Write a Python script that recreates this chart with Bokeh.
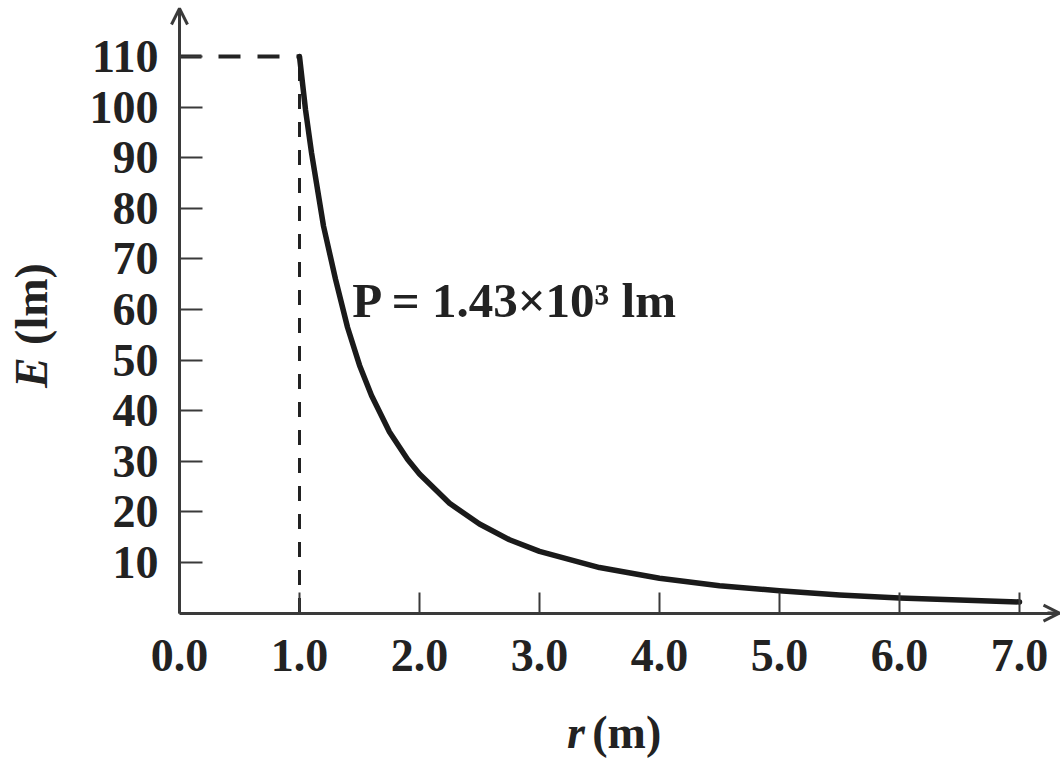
from bokeh.plotting import figure
from bokeh.models import (Range1d, FixedTicker, PrintfTickFormatter, Label, Arrow, OpenHead)
from bokeh.embed import file_html
from bokeh.resources import INLINE

# data
r_vals = [1.0, 1.05, 1.1, 1.2, 1.3, 1.4, 1.5, 1.6, 1.75, 1.9, 2.0, 2.25, 2.5, 2.75,
          3.0, 3.5, 4.0, 4.5, 5.0, 5.5, 6.0, 6.5, 7.0]
E_vals = [110, 99.5, 91, 76.5, 66, 56.5, 49, 43, 35.8, 30.4, 27.5, 21.7, 17.6, 14.5,
          12.2, 9.0, 6.9, 5.4, 4.4, 3.6, 3.0, 2.6, 2.2]
x_ticks = [0, 1, 2, 3, 4, 5, 6, 7]
y_ticks = [10, 20, 30, 40, 50, 60, 70, 80, 90, 100, 110]
r0 = 1.0
E0 = 110
annotation = "P = 1.43×10³ lm"

FONT = "Liberation Serif"
INK = "#222222"
AX = "#3a3a3a"

W, H = 1060, 761
X0_PX, Y0_PX = 179.0, 612.6      # where r=0, E=0 sit on the canvas
SX, SY = 120.0, 5.06             # px per unit

p = figure(width=W, height=H, output_backend="svg", toolbar_location=None,
           x_range=Range1d(-X0_PX / SX, (W - X0_PX) / SX),
           y_range=Range1d(-(H - Y0_PX) / SY, Y0_PX / SY),
           min_border_left=0, min_border_right=0, min_border_top=0, min_border_bottom=0)
p.outline_line_color = None
p.xgrid.visible = False
p.ygrid.visible = False
p.background_fill_color = "white"
p.border_fill_color = "white"

x_end = (W - 1 - X0_PX) / SX
y_end = (Y0_PX - 8) / SY

for ax in (p.xaxis[0], p.yaxis[0]):
    ax.fixed_location = 0
    ax.axis_line_color = AX
    ax.axis_line_width = 3
    ax.major_tick_line_color = AX
    ax.major_tick_line_width = 2
    ax.minor_tick_line_color = None
    ax.major_tick_out = 0
    ax.major_label_text_font = FONT
    ax.major_label_text_font_style = "bold"
    ax.major_label_text_font_size = "46px"
    ax.major_label_text_color = INK

p.xaxis.bounds = (0, x_end)
p.yaxis.bounds = (0, y_end)
p.xaxis.ticker = FixedTicker(ticks=x_ticks)
p.xaxis.formatter = PrintfTickFormatter(format="%.1f")
p.xaxis.major_tick_in = 21
p.xaxis.major_label_standoff = 27
p.yaxis.ticker = FixedTicker(ticks=y_ticks)
p.yaxis.major_tick_in = 23
p.yaxis.major_label_standoff = 21

# dashed guides
p.line([0, r0], [E0, E0], line_color=INK, line_width=4, line_dash="22 17")
p.line([r0, r0], [0, E0], line_color=INK, line_width=3, line_dash="15 13")

# curve
p.line(r_vals, E_vals, line_color="#1a1a1a", line_width=5.5, line_join="round", line_cap="round")

# axis arrows
p.add_layout(Arrow(end=OpenHead(size=16, line_width=3, line_color=AX), line_color=AX, line_width=3,
                   x_start=x_end - 0.1, y_start=0, x_end=x_end, y_end=0))
p.add_layout(Arrow(end=OpenHead(size=16, line_width=3, line_color=AX), line_color=AX, line_width=3,
                   x_start=0, y_start=y_end - 3, x_end=0, y_end=y_end))

# annotation
p.add_layout(Label(x=1.44, y=61.8, text=annotation, text_font=FONT, text_font_style="bold",
                   text_font_size="49px", text_color=INK, text_baseline="middle", text_align="left"))

# axis titles
p.add_layout(Label(x=3.23, y=-23.5, text="r", text_font=FONT, text_font_style="bold italic",
                   text_font_size="46px", text_color=INK, text_baseline="middle", text_align="left"))
p.add_layout(Label(x=3.44, y=-23.5, text="(m)", text_font=FONT, text_font_style="bold",
                   text_font_size="46px", text_color=INK, text_baseline="middle", text_align="left"))
p.add_layout(Label(x=-1.23, y=44.5, text="E", text_font=FONT, text_font_style="bold italic",
                   text_font_size="46px", text_color=INK, text_baseline="middle", text_align="left",
                   angle=1.5708))
p.add_layout(Label(x=-1.23, y=53.0, text="(lm)", text_font=FONT, text_font_style="bold",
                   text_font_size="46px", text_color=INK, text_baseline="middle", text_align="left",
                   angle=1.5708))

open("out.html", "w").write(file_html(p, INLINE))
